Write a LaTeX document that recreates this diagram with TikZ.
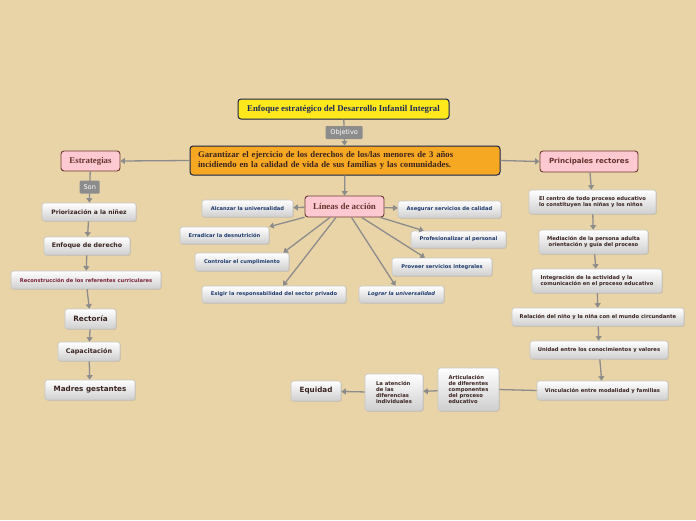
\documentclass[tikz,border=0pt]{standalone}
\usepackage{fontspec}
\setmainfont{Liberation Serif}
\setsansfont{DejaVu Sans}
\usetikzlibrary{arrows.meta,shadows}
\definecolor{bg}{HTML}{E9D4A8}
\definecolor{ttlyel}{HTML}{FFE81C}
\definecolor{orng}{HTML}{F6A823}
\definecolor{pnk}{HTML}{FFC9D2}
\definecolor{pnkbd}{HTML}{6B3A30}
\definecolor{navy}{HTML}{1C2A5A}
\definecolor{brwn}{HTML}{3A2420}
\definecolor{maroon}{HTML}{7A1F35}
\definecolor{linnavy}{HTML}{1F3B6E}
\definecolor{conn}{HTML}{8C8C8C}
\tikzset{
  box/.style={draw=gray!45, line width=0.6pt, rounded corners=2.5pt, top color=white, bottom color=gray!38,
    inner sep=1pt, font=\sffamily\bfseries, text=brwn, align=center,
    drop shadow={opacity=0.25, shadow xshift=0.8pt, shadow yshift=-0.8pt}},
  pbox/.style={draw=pnkbd, line width=0.9pt, rounded corners=3pt, fill=pnk, inner sep=1pt, align=center},
  lbl/.style={fill=conn, text=white, font=\sffamily\fontsize{6.6}{7}\selectfont, inner sep=1.8pt, rounded corners=1pt, minimum height=13pt},
  arr/.style={draw=conn, line width=1.3pt, -{Triangle[width=6pt,length=4.5pt]}},
  ln/.style={draw=conn, line width=1.3pt},
}
\begin{document}
\begin{tikzpicture}[x=1pt,y=-1pt]
\useasboundingbox[fill=bg] (0,0) rectangle (696,520);
% top
\node[draw=navy!80!black, line width=1pt, rounded corners=3pt, fill=ttlyel, minimum width=211pt, minimum height=20pt, inner sep=0pt,
  font=\bfseries\fontsize{8.8}{10}\selectfont, text=navy] (title) at (343.5,109) {Enfoque estratégico del Desarrollo Infantil Integral};
\node[draw=navy!80!black, line width=1pt, rounded corners=3pt, fill=orng, minimum width=310pt, minimum height=29pt, inner sep=0pt,
  font=\bfseries\fontsize{8.7}{9.2}\selectfont, text=brwn, align=left, text width=294pt] (goal) at (345,160.5)
  {Garantizar el ejercicio de los derechos de los/las menores de 3 años\\incidiendo en la calidad de vida de sus familias y las comunidades.};
% pink heads
\node[pbox, minimum width=59pt, minimum height=20pt, font=\bfseries\fontsize{8.8}{10}\selectfont, text=pnkbd!90!black] (estr) at (90.5,161) {Estrategias};
\node[pbox, minimum width=98pt, minimum height=21pt, font=\sffamily\bfseries\fontsize{7.1}{8}\selectfont, text=pnkbd!90!black] (princ) at (589,161.5) {Principales rectores};
\node[pbox, minimum width=79pt, minimum height=21pt, font=\bfseries\fontsize{8.9}{10}\selectfont, text=pnkbd!90!black] (lin) at (344.5,206.5) {Líneas de acción};
% left branch
\node[box, minimum width=94pt, minimum height=18pt, font=\sffamily\bfseries\fontsize{6.05}{7}\selectfont] (prio) at (89,212) {Priorización a la niñez};
\node[box, minimum width=86pt, minimum height=18pt, font=\sffamily\bfseries\fontsize{6.25}{7}\selectfont] (enf) at (87,246) {Enfoque de derecho};
\node[box, minimum width=150pt, minimum height=18pt, font=\sffamily\bfseries\fontsize{5.15}{6}\selectfont, text=maroon] (rec) at (86,280) {Reconstrucción de los referentes curriculares};
\node[box, minimum width=51pt, minimum height=20pt, font=\sffamily\bfseries\fontsize{7.3}{8}\selectfont] (rect) at (90.5,319) {Rectoría};
\node[box, minimum width=62pt, minimum height=19pt, font=\sffamily\bfseries\fontsize{6.4}{7}\selectfont] (cap) at (89,351.5) {Capacitación};
\node[box, minimum width=90pt, minimum height=20pt, font=\sffamily\bfseries\fontsize{7.2}{8}\selectfont] (mad) at (90,390) {Madres gestantes};
% lineas children
\tikzset{lbox/.style={box, minimum height=17pt, font=\sffamily\bfseries\fontsize{5.15}{6}\selectfont, text=linnavy}}
\node[lbox, minimum width=91pt] (alc) at (247.5,208.5) {Alcanzar la universalidad};
\node[lbox, minimum width=103pt] (ase) at (449.5,209.5) {Asegurar servicios de calidad};
\node[lbox, minimum width=89pt] (err) at (224.5,235.5) {Erradicar la desnutrición};
\node[lbox, minimum width=95pt] (prof) at (458.5,239.5) {Profesionalizar al personal};
\node[lbox, minimum width=94pt, minimum height=18pt] (ctrl) at (242,262) {Controlar el cumplimiento};
\node[lbox, minimum width=100pt, minimum height=18pt] (prov) at (442,267) {Proveer servicios integrales};
\node[lbox, minimum width=144pt] (exi) at (274,294.5) {Exigir la responsabilidad del sector privado};
\node[lbox, minimum width=85pt, font=\sffamily\bfseries\itshape\fontsize{5.15}{6}\selectfont] (log) at (401.5,294.5) {Lograr la universalidad};
% right branch
\tikzset{rbox/.style={box, font=\sffamily\bfseries\fontsize{5.25}{6}\selectfont}}
\node[rbox, minimum width=127pt, minimum height=24pt, align=left] (cen) at (592.5,202) {El centro de todo proceso educativo\\lo constituyen las niñas y los niños};
\node[rbox, minimum width=109pt, minimum height=24pt] (med) at (593.5,242) {Mediación de la persona adulta\\orientación y guía del proceso};
\node[rbox, minimum width=130pt, minimum height=24pt, align=left] (int) at (597,281) {Integración de la actividad y la\\comunicación en el proceso educativo};
\node[rbox, minimum width=172pt, minimum height=18pt] (rel) at (598,317) {Relación del niño y la niña con el mundo circundante};
\node[rbox, minimum width=138pt, minimum height=18pt] (uni) at (599,350) {Unidad entre los conocimientos y valores};
\node[rbox, minimum width=131pt, minimum height=19pt] (vin) at (602.5,390.5) {Vinculación entre modalidad y familias};
\node[rbox, minimum width=61pt, minimum height=43pt, align=left] (art) at (468.5,389.5) {Articulación\\de diferentes\\componentes\\del proceso\\educativo};
\node[rbox, minimum width=58pt, minimum height=37pt, align=left] (aten) at (394,392.5) {La atención\\de las\\diferencias\\individuales};
\node[box, minimum width=50pt, minimum height=20pt, font=\sffamily\bfseries\fontsize{7.2}{8}\selectfont] (equ) at (316,391) {Equidad};
% connectors
\draw[arr] (title) -- node[lbl, minimum width=37pt]{Objetivo} (goal);
\draw[arr] (goal.west) -- (estr.east);
\draw[arr] (goal.east) -- (princ.west);
\draw[arr] (goal) -- (lin);
\draw[arr] (estr) -- node[lbl, minimum width=20pt]{Son} (prio);
\draw[arr] (prio) -- (enf);
\draw[arr] (enf) -- (rec);
\draw[arr] (rec) -- (rect);
\draw[arr] (rect) -- (cap);
\draw[arr] (cap) -- (mad);
\draw[arr] (lin) -- (alc);
\draw[arr] (lin) -- (ase);
\draw[arr] (lin) -- (err.north east);
\draw[arr] (lin) -- ([xshift=-6pt]ctrl.north east);
\draw[arr] (lin) -- ([xshift=9pt]exi.north);
\draw[arr] (lin) -- ([xshift=-6pt]log.north);
\draw[arr] (lin) -- ([xshift=-17pt]prov.north);
\draw[arr] (lin) -- ([xshift=13pt]prof.north west);
\draw[arr] (princ) -- (cen);
\draw[arr] (cen) -- (med);
\draw[arr] (med) -- (int);
\draw[arr] (int) -- (rel);
\draw[arr] (rel) -- (uni);
\draw[arr] (uni) -- (vin);
\draw[ln] (vin.west) -- (art.east);
\draw[arr] (art) -- (aten);
\draw[arr] (aten) -- (equ);
\end{tikzpicture}
\end{document}
